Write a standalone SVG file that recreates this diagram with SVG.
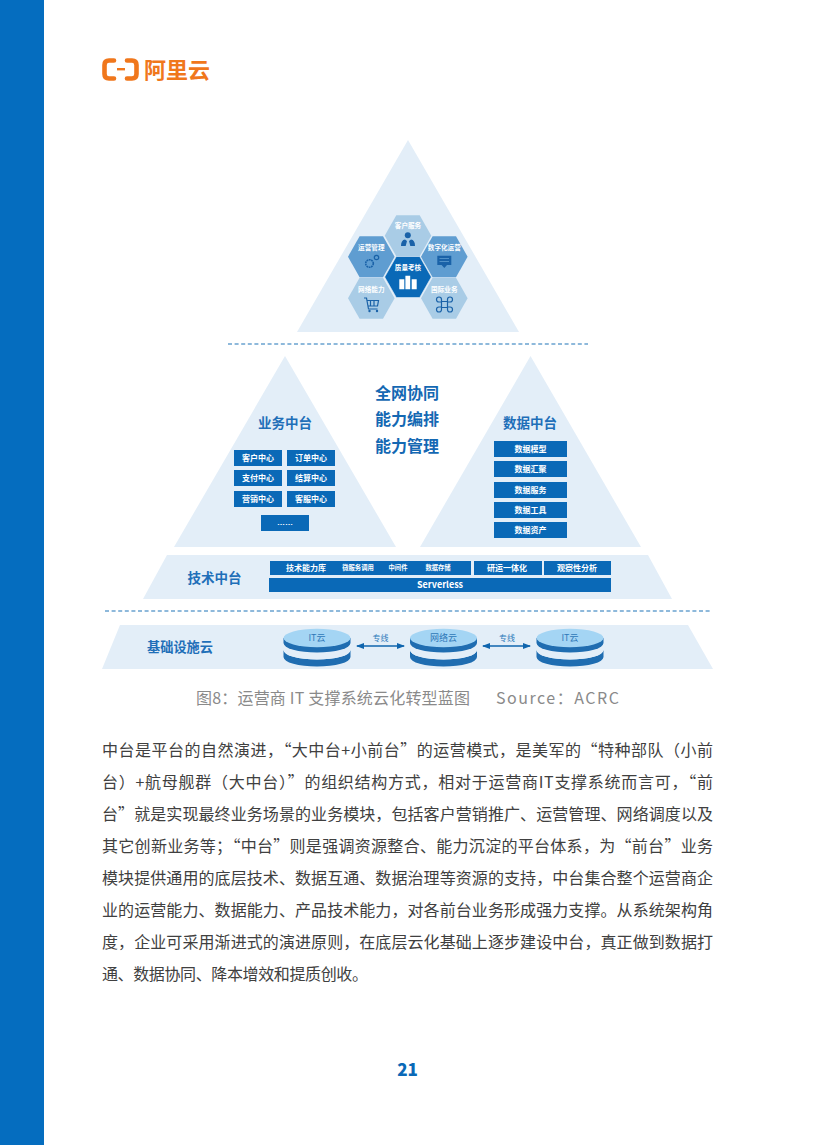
<svg xmlns="http://www.w3.org/2000/svg" width="816" height="1145" viewBox="0 0 816 1145">
<style>
text{font-family:"Noto Sans CJK SC","Liberation Sans",sans-serif}
.c{text-anchor:middle;dominant-baseline:central;transform:translateY(-1px)}
.band{fill:#e3eef8}
.box{fill:#0a69b7}
.bt{fill:#fff;font-size:8px;font-weight:700}
.bts{fill:#fff;font-size:6.3px;font-weight:700}
.hl{fill:#fff;font-size:6.6px;font-weight:700}
.ttl{fill:#1f6fb8;font-size:13.5px;font-weight:700}
.cen{fill:#1468b3;font-size:16px;font-weight:700}
.body{fill:#404040;font-size:16px}
.dash{stroke:#1f74b8;stroke-width:1.2;stroke-dasharray:4 2.6;fill:none}
.ic{fill:none;stroke:#1a62a8;stroke-width:1.2}
.icf{fill:#1a62a8}
.h1{fill:#a9cce6}.h2{fill:#5f9dd1}.h3{fill:#0a69b7}
.top{fill:#a4d5f4}.dk{fill:#1f6db1}
.lk{stroke:#0f65ae;stroke-width:1.3;fill:none;marker-start:url(#arS);marker-end:url(#arE)}
.zx{fill:#2a78b8;font-size:8px}
.dl{fill:#2f78b8;font-size:9px}
.cap{fill:#8a8a8a;font-size:16px;dominant-baseline:central;transform:translateY(-1px)}
</style>
<defs>
<polygon id="hex" points="-23.3,0 -11.7,-20.5 11.7,-20.5 23.3,0 11.7,20.5 -11.7,20.5"/>
<marker id="arE" markerWidth="8" markerHeight="6" refX="7" refY="3" orient="auto" markerUnits="userSpaceOnUse"><path d="M0,0L8,3L0,6z" fill="#0f65ae"/></marker>
<marker id="arS" markerWidth="8" markerHeight="6" refX="1" refY="3" orient="auto" markerUnits="userSpaceOnUse"><path d="M8,0L0,3L8,6z" fill="#0f65ae"/></marker>
<g id="disk">
<path class="dk" d="M-33.5,12V19A33.5,9.5 0 0 0 33.5,19V12A33.5,9.5 0 0 1 -33.5,12z"/>
<path d="M-33.5,9A33.5,9.5 0 0 0 33.5,9V12A33.5,9.5 0 0 1 -33.5,12z" fill="#e3eef8"/>
<path class="dk" d="M-33.5,0V5A33.5,9.5 0 0 0 33.5,5V0z"/>
<ellipse class="top" cx="0" cy="0" rx="33.5" ry="9.3"/>
</g>
</defs>
<rect width="816" height="1145" fill="#fff"/>
<rect id="sidebar" x="0" y="0" width="44" height="1145" fill="#056dbf"/>
<g id="logo">
<path d="M114,60.500H109Q104.500,60.500 104.500,65V74Q104.500,78.500 109,78.500H114" fill="none" stroke="#f0771c" stroke-width="4.600" stroke-linecap="round"/>
<path d="M127,60.500H132Q136.500,60.500 136.500,65V74Q136.500,78.500 132,78.500H127" fill="none" stroke="#f0771c" stroke-width="4.600" stroke-linecap="round"/>
<rect x="117" y="68" width="8" height="2.400" fill="#f0771c"/>
<text x="177" y="69" class="c" font-size="22" font-weight="700" fill="#f0771c" textLength="66" lengthAdjust="spacingAndGlyphs">阿里云</text>
</g>
<g id="top-triangle">
<polygon class="band" points="408,140 519,332 297,332"/>
</g>
<g id="hex-kehu"><use href="#hex" x="408" y="235.700" class="h1"/><text x="408" y="226" class="c hl">客户服务</text>
<circle cx="407.800" cy="235.300" r="3" class="icf"/><path class="icf" d="M401,246Q401,240 405,239.500L407,241L405.700,246zM415,246Q415,240 411,239.500L409,241L410.300,246z"/></g>
<g id="hex-yunying"><use href="#hex" x="371.300" y="256.700" class="h2"/><text x="371.300" y="247.700" class="c hl">运营管理</text>
<circle cx="369.500" cy="263.500" r="3.800" class="ic" stroke-dasharray="1.800 .6" style="stroke-width:1.600"/><circle cx="376.500" cy="257.500" r="2.200" class="ic"/></g>
<g id="hex-shuzi"><use href="#hex" x="444.300" y="256.700" class="h2"/><text x="444.300" y="247.700" class="c hl">数字化运营</text>
<path class="icf" d="M437.300,255.700H451.300V265H447L444.300,268L441.600,265H437.300z"/><path d="M439.500,258.500H449M439.500,261.500H449" stroke="#5f9dd1" stroke-width=".8"/></g>
<g id="hex-wangluo"><use href="#hex" x="371.300" y="298.300" class="h1"/><text x="371.300" y="289.700" class="c hl">网络能力</text>
<path class="ic" d="M364,298H366.500L368.500,309H377.500M367,300.500H378.500L377.500,306H368M370.500,300.500V306M374,300.500V306"/><circle cx="369.500" cy="311" r="1.200" class="icf"/><circle cx="377" cy="311" r="1.200" class="icf"/></g>
<g id="hex-guoji"><use href="#hex" x="444.300" y="298.300" class="h1"/><text x="444.300" y="289.700" class="c hl">国际业务</text>
<path class="ic" d="M441.500,301.500H447.500V307.500H441.500zM441.500,301.500V299.500A2.500,2.500 0 1 0 439,302H441.500M447.500,301.500V299.500A2.500,2.500 0 1 1 450,302H447.500M441.500,307.500V309.500A2.500,2.500 0 1 1 439,307H441.500M447.500,307.500V309.500A2.500,2.500 0 1 0 450,307H447.500"/></g>
<g id="hex-zhiliang"><use href="#hex" x="408" y="277" class="h3" stroke="#e3eef8" stroke-width=".6"/><text x="408" y="268.300" class="c hl">质量考核</text>
<path fill="#fff" d="M399.300,279.300h5v10h-5zM405.400,275.700h4.800v13.600h-4.800zM411.700,279.300h5v10h-5z"/></g>
<g id="divider-1"><path class="dash" d="M228,344H588"/></g>
<g id="business-platform">
<polygon class="band" points="285,356 396,547 174,547"/>
<text x="285" y="423" class="c ttl">业务中台</text>
<rect class="box" x="234" y="450" width="48" height="16"/><text x="258" y="458" class="c bt">客户中心</text>
<rect class="box" x="287" y="450" width="48" height="16"/><text x="311" y="458" class="c bt">订单中心</text>
<rect class="box" x="234" y="470" width="48" height="16"/><text x="258" y="478" class="c bt">支付中心</text>
<rect class="box" x="287" y="470" width="48" height="16"/><text x="311" y="478" class="c bt">结算中心</text>
<rect class="box" x="234" y="491" width="48" height="16"/><text x="258" y="499" class="c bt">营销中心</text>
<rect class="box" x="287" y="491" width="48" height="16"/><text x="311" y="499" class="c bt">客服中心</text>
<rect class="box" x="261" y="515" width="48" height="16"/><text x="285" y="523" class="c bt" style="font-family:'Liberation Sans',sans-serif">……</text>
</g>
<g id="center-labels">
<text x="407" y="392.500" class="c cen">全网协同</text>
<text x="407" y="418.500" class="c cen">能力编排</text>
<text x="407" y="445.500" class="c cen">能力管理</text>
</g>
<g id="data-platform">
<polygon class="band" points="530.500,356 641,547 420,547"/>
<text x="530" y="423" class="c ttl">数据中台</text>
<rect class="box" x="494" y="441" width="73" height="16"/><text x="530.500" y="449" class="c bt">数据模型</text>
<rect class="box" x="494" y="461" width="73" height="16"/><text x="530.500" y="469" class="c bt">数据汇聚</text>
<rect class="box" x="494" y="482" width="73" height="16"/><text x="530.500" y="490" class="c bt">数据服务</text>
<rect class="box" x="494" y="502" width="73" height="16"/><text x="530.500" y="510" class="c bt">数据工具</text>
<rect class="box" x="494" y="522" width="73" height="16"/><text x="530.500" y="530" class="c bt">数据资产</text>
</g>
<g id="tech-platform">
<polygon class="band" points="167,555 648,555 672,599 143,599"/>
<text x="214.500" y="578" class="c ttl">技术中台</text>
<rect class="box" x="270" y="561" width="201" height="14"/>
<rect class="box" x="474" y="561" width="68" height="14"/>
<rect class="box" x="544" y="561" width="67" height="14"/>
<rect class="box" x="269" y="578" width="342" height="14"/>
<text x="306" y="568.500" class="c bt">技术能力库</text>
<text x="358" y="568.500" class="c bts">微服务调用</text>
<text x="398" y="568.500" class="c bts">中间件</text>
<text x="438" y="568.500" class="c bts">数据存储</text>
<text x="507" y="568.500" class="c bt">研运一体化</text>
<text x="577" y="568.500" class="c bt">观察性分析</text>
<text x="440" y="585" class="c bt" style="font-size:9px">Serverless</text>
</g>
<g id="divider-2"><path class="dash" d="M105,611H712"/></g>
<g id="infra-band">
<polygon class="band" points="120,625 688,625 713,669 102,669"/>
<text x="180" y="647.500" class="c ttl" style="font-size:13.200px">基础设施云</text>
</g>
<g id="cloud-it-1"><use href="#disk" x="317" y="638"/><text x="317" y="638" class="c dl">IT云</text></g>
<g id="cloud-net"><use href="#disk" x="443.500" y="638"/><text x="443.500" y="638" class="c dl">网络云</text></g>
<g id="cloud-it-2"><use href="#disk" x="570" y="638"/><text x="570" y="638" class="c dl">IT云</text></g>
<g id="connectors">
<path class="lk" d="M357,646H404"/>
<path class="lk" d="M483,646H530"/>
</g>
<g id="connector-labels">
<text x="380.500" y="638" class="c zx">专线</text>
<text x="507" y="638" class="c zx">专线</text>
</g>
<g id="caption">
<text class="cap" x="196" y="698" textLength="274">图8：运营商 IT 支撑系统云化转型蓝图</text>
<text class="cap" x="496" y="698" textLength="123">Source：ACRC</text>
</g>
<g id="body-text">
<text class="body" x="102" y="755.500" textLength="611">中台是平台的自然演进，“大中台+小前台”的运营模式，是美军的“特种部队（小前</text>
<text class="body" x="102" y="787.500" textLength="611">台）+航母舰群（大中台）”的组织结构方式，相对于运营商IT支撑系统而言可，“前</text>
<text class="body" x="102" y="819.500" textLength="611">台”就是实现最终业务场景的业务模块，包括客户营销推广、运营管理、网络调度以及</text>
<text class="body" x="102" y="851.500" textLength="611">其它创新业务等；“中台”则是强调资源整合、能力沉淀的平台体系，为“前台”业务</text>
<text class="body" x="102" y="883.500" textLength="611">模块提供通用的底层技术、数据互通、数据治理等资源的支持，中台集合整个运营商企</text>
<text class="body" x="102" y="915.500" textLength="611">业的运营能力、数据能力、产品技术能力，对各前台业务形成强力支撑。从系统架构角</text>
<text class="body" x="102" y="947.500" textLength="611">度，企业可采用渐进式的演进原则，在底层云化基础上逐步建设中台，真正做到数据打</text>
<text class="body" x="102" y="979.500" textLength="266">通、数据协同、降本增效和提质创收。</text>
</g>
<text id="page-number" x="407.500" y="1069" class="c" font-size="17" font-weight="900" fill="#0a69b7">21</text>
</svg>
